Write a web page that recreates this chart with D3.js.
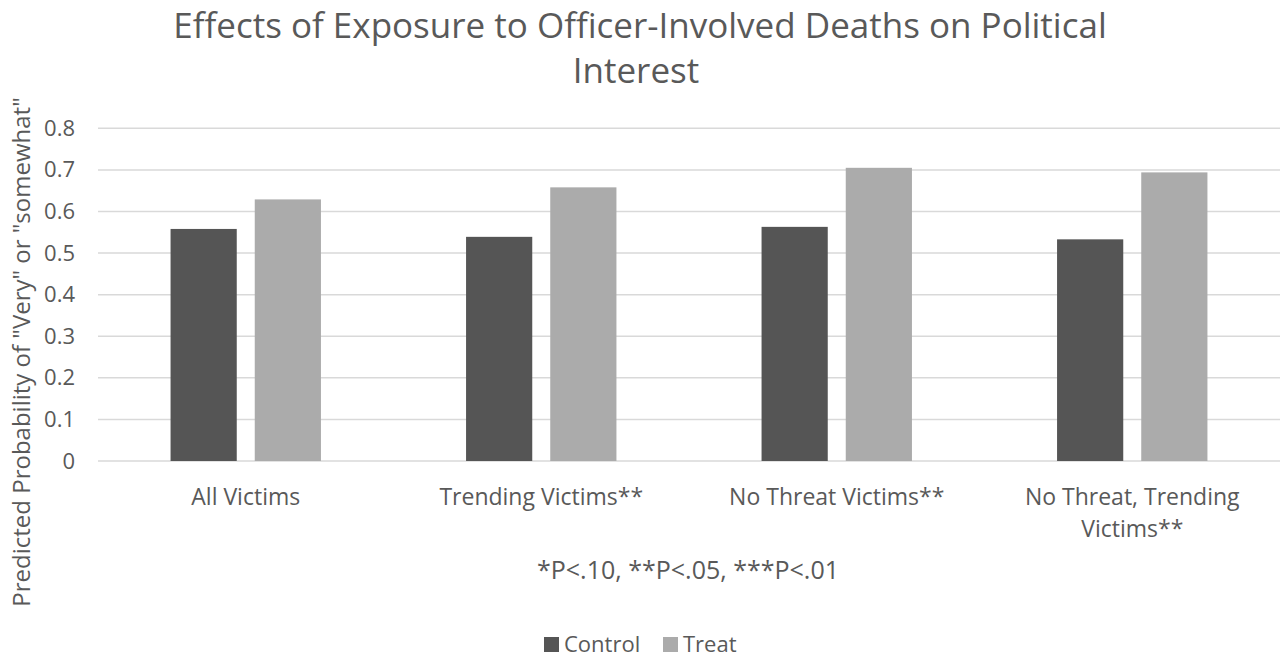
<!DOCTYPE html>
<html><head><meta charset="utf-8">
<script src="https://cdn.jsdelivr.net/npm/d3@7"></script>
<style>body{margin:0;background:#fff;} text{font-family:"Open Sans",sans-serif;fill:#595959;}</style>
</head><body>
<svg id="c" width="1287" height="660"></svg>
<script>
const categories = ["All Victims", "Trending Victims**", "No Threat Victims**", "No Threat, Trending Victims**"];
const categoryLines = [["All Victims"], ["Trending Victims**"], ["No Threat Victims**"], ["No Threat, Trending", "Victims**"]];
const seriesNames = ["Control", "Treat"];
const controlValues = [0.558, 0.539, 0.563, 0.533];
const treatValues = [0.629, 0.658, 0.705, 0.694];
const yTicks = [0, 0.1, 0.2, 0.3, 0.4, 0.5, 0.6, 0.7, 0.8];
const colors = ["#555555", "#ababab"];

const svg = d3.select("#c");
const pLeft = 98, pRight = 1280, pTop = 128.3, pBottom = 461;
const x0 = d3.scaleBand().domain(categories).range([pLeft, pRight]).paddingInner(0).paddingOuter(0);
const y = d3.scaleLinear().domain([0, 0.8]).range([pBottom, pTop]);
const bw = x0.bandwidth() * 0.224, gap = 18;

// gridlines
svg.append("g").selectAll("line").data(yTicks).join("line")
  .attr("x1", pLeft).attr("x2", pRight)
  .attr("y1", d => y(d)).attr("y2", d => y(d))
  .attr("stroke", "#d9d9d9").attr("stroke-width", 1.5);

// y axis labels
const yAxis = d3.axisLeft(y).tickValues(yTicks).tickFormat(d => d === 0 ? "0" : d3.format(".1f")(d)).tickSize(0).tickPadding(0);
const ya = svg.append("g").attr("transform", `translate(${pLeft-23},0)`).call(yAxis);
ya.select(".domain").remove();
ya.selectAll("text").style("font-size", "22px").attr("fill", "#595959").style("font-family", '"Open Sans",sans-serif');

// bars
const data = categories.map((c, i) => ({c, vals: [controlValues[i], treatValues[i]]}));
const g = svg.append("g");
data.forEach(d => {
  const cx = x0(d.c) + x0.bandwidth() / 2;
  d.vals.forEach((v, j) => {
    const xs = j === 0 ? cx - gap/2 - bw : cx + gap/2;
    g.append("rect").attr("x", xs).attr("width", bw)
      .attr("y", y(v)).attr("height", y(0) - y(v))
      .attr("fill", colors[j]);
  });
});

// category labels
categories.forEach((c, i) => {
  const cx = x0(c) + x0.bandwidth() / 2;
  categoryLines[i].forEach((ln, k) => {
    svg.append("text").attr("x", cx).attr("y", 505 + k * 32).attr("text-anchor", "middle")
      .style("font-size", "23px").text(ln);
  });
});

// footnote
svg.append("text").attr("x", 688).attr("y", 579).attr("text-anchor", "middle").style("font-size", "25px")
  .text("*P<.10, **P<.05, ***P<.01");

// title
svg.append("text").attr("x", 640).attr("y", 38).attr("text-anchor", "middle").style("font-size", "35px")
  .text("Effects of Exposure to Officer-Involved Deaths on Political");
svg.append("text").attr("x", 636).attr("y", 83).attr("text-anchor", "middle").style("font-size", "35px")
  .text("Interest");

// y title
svg.append("text").attr("transform", "translate(30,352) rotate(-90)").attr("text-anchor", "middle")
  .style("font-size", "24px").text('Predicted Probability of "Very" or "somewhat"');

// legend
const leg = svg.append("g");
const legX = [544, 663];
seriesNames.forEach((s, i) => {
  leg.append("rect").attr("x", legX[i]).attr("y", 637).attr("width", 15).attr("height", 15).attr("fill", colors[i]);
  leg.append("text").attr("x", legX[i] + 20).attr("y", 652).style("font-size", "22px").text(s);
});
</script>
</body></html>
